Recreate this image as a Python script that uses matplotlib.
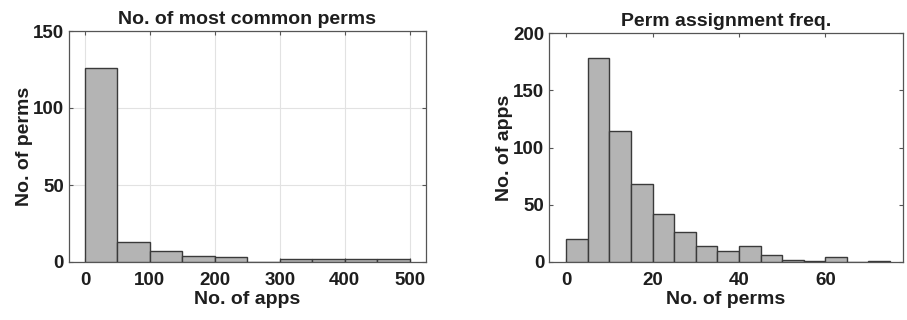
import numpy as np
import matplotlib
matplotlib.use("Agg")
import matplotlib.pyplot as plt

plt.rcParams['font.family'] = ['Liberation Sans', 'DejaVu Sans']
plt.rcParams['font.weight'] = 'bold'

# ---------- data ----------
# left: no. of perms per bin of no. of apps (bin width 50)
apps_edges = np.arange(0, 501, 50)
perms_counts = [126, 13, 7, 4, 3, 0, 2, 2, 2, 2]

# right: no. of apps per bin of no. of perms (bin width 5)
perm_edges = np.arange(0, 76, 5)
apps_counts = [20, 178, 114, 68, 42, 26, 14, 10, 14, 6, 2, 1, 4, 0, 1]

FACE = '#b4b4b4'
EDGE = '#3a3a3a'
AXC = '#555555'
TXT = '#1e1e1e'
FS_TICK = 13.5
FS_LAB = 14

fig = plt.figure(figsize=(9.07, 3.2), dpi=100)
ax1 = fig.add_axes([68.7/907, 1-262/320, (426-68.7)/907, (262-31)/320])
ax2 = fig.add_axes([549/907, 1-262/320, (903-549)/907, (262-33)/320])

def style(ax):
    for s in ax.spines.values():
        s.set_color(AXC)
        s.set_linewidth(0.9)
    ax.tick_params(direction='in', top=True, right=True, colors=AXC,
                   labelcolor=TXT, labelsize=FS_TICK, length=3)
    ax.tick_params(axis='x', pad=7.5)
    ax.tick_params(axis='y', pad=3.5)
    for lab in ax.get_xticklabels() + ax.get_yticklabels():
        lab.set_fontweight('bold')

ax1.bar(apps_edges[:-1], perms_counts, width=50, align='edge',
        color=FACE, edgecolor=EDGE, linewidth=1.0, zorder=3)
ax1.set_xlim(-25, 525)
ax1.set_ylim(0, 150)
ax1.set_xticks([0, 100, 200, 300, 400, 500])
ax1.set_yticks([0, 50, 100, 150])
ax1.grid(True, color='#e2e2e2', linewidth=0.8, zorder=0)
style(ax1)
ax1.set_title('No. of most common perms', fontsize=FS_LAB, fontweight='bold', color=TXT, pad=5)
ax1.set_xlabel('No. of apps', fontsize=FS_LAB, fontweight='bold', color=TXT, labelpad=1)
ax1.set_ylabel('No. of perms', fontsize=FS_LAB, fontweight='bold', color=TXT, labelpad=0)

ax2.bar(perm_edges[:-1], apps_counts, width=5, align='edge',
        color=FACE, edgecolor=EDGE, linewidth=1.0, zorder=3)
ax2.set_xlim(-4, 78)
ax2.set_ylim(0, 200)
ax2.set_xticks([0, 20, 40, 60])
ax2.set_yticks([0, 50, 100, 150, 200])
style(ax2)
ax2.set_title('Perm assignment freq.', fontsize=FS_LAB, fontweight='bold', color=TXT, pad=5)
ax2.set_xlabel('No. of perms', fontsize=FS_LAB, fontweight='bold', color=TXT, labelpad=1)
ax2.set_ylabel('No. of apps', fontsize=FS_LAB, fontweight='bold', color=TXT, labelpad=0)

fig.savefig('out.png', dpi=100)
